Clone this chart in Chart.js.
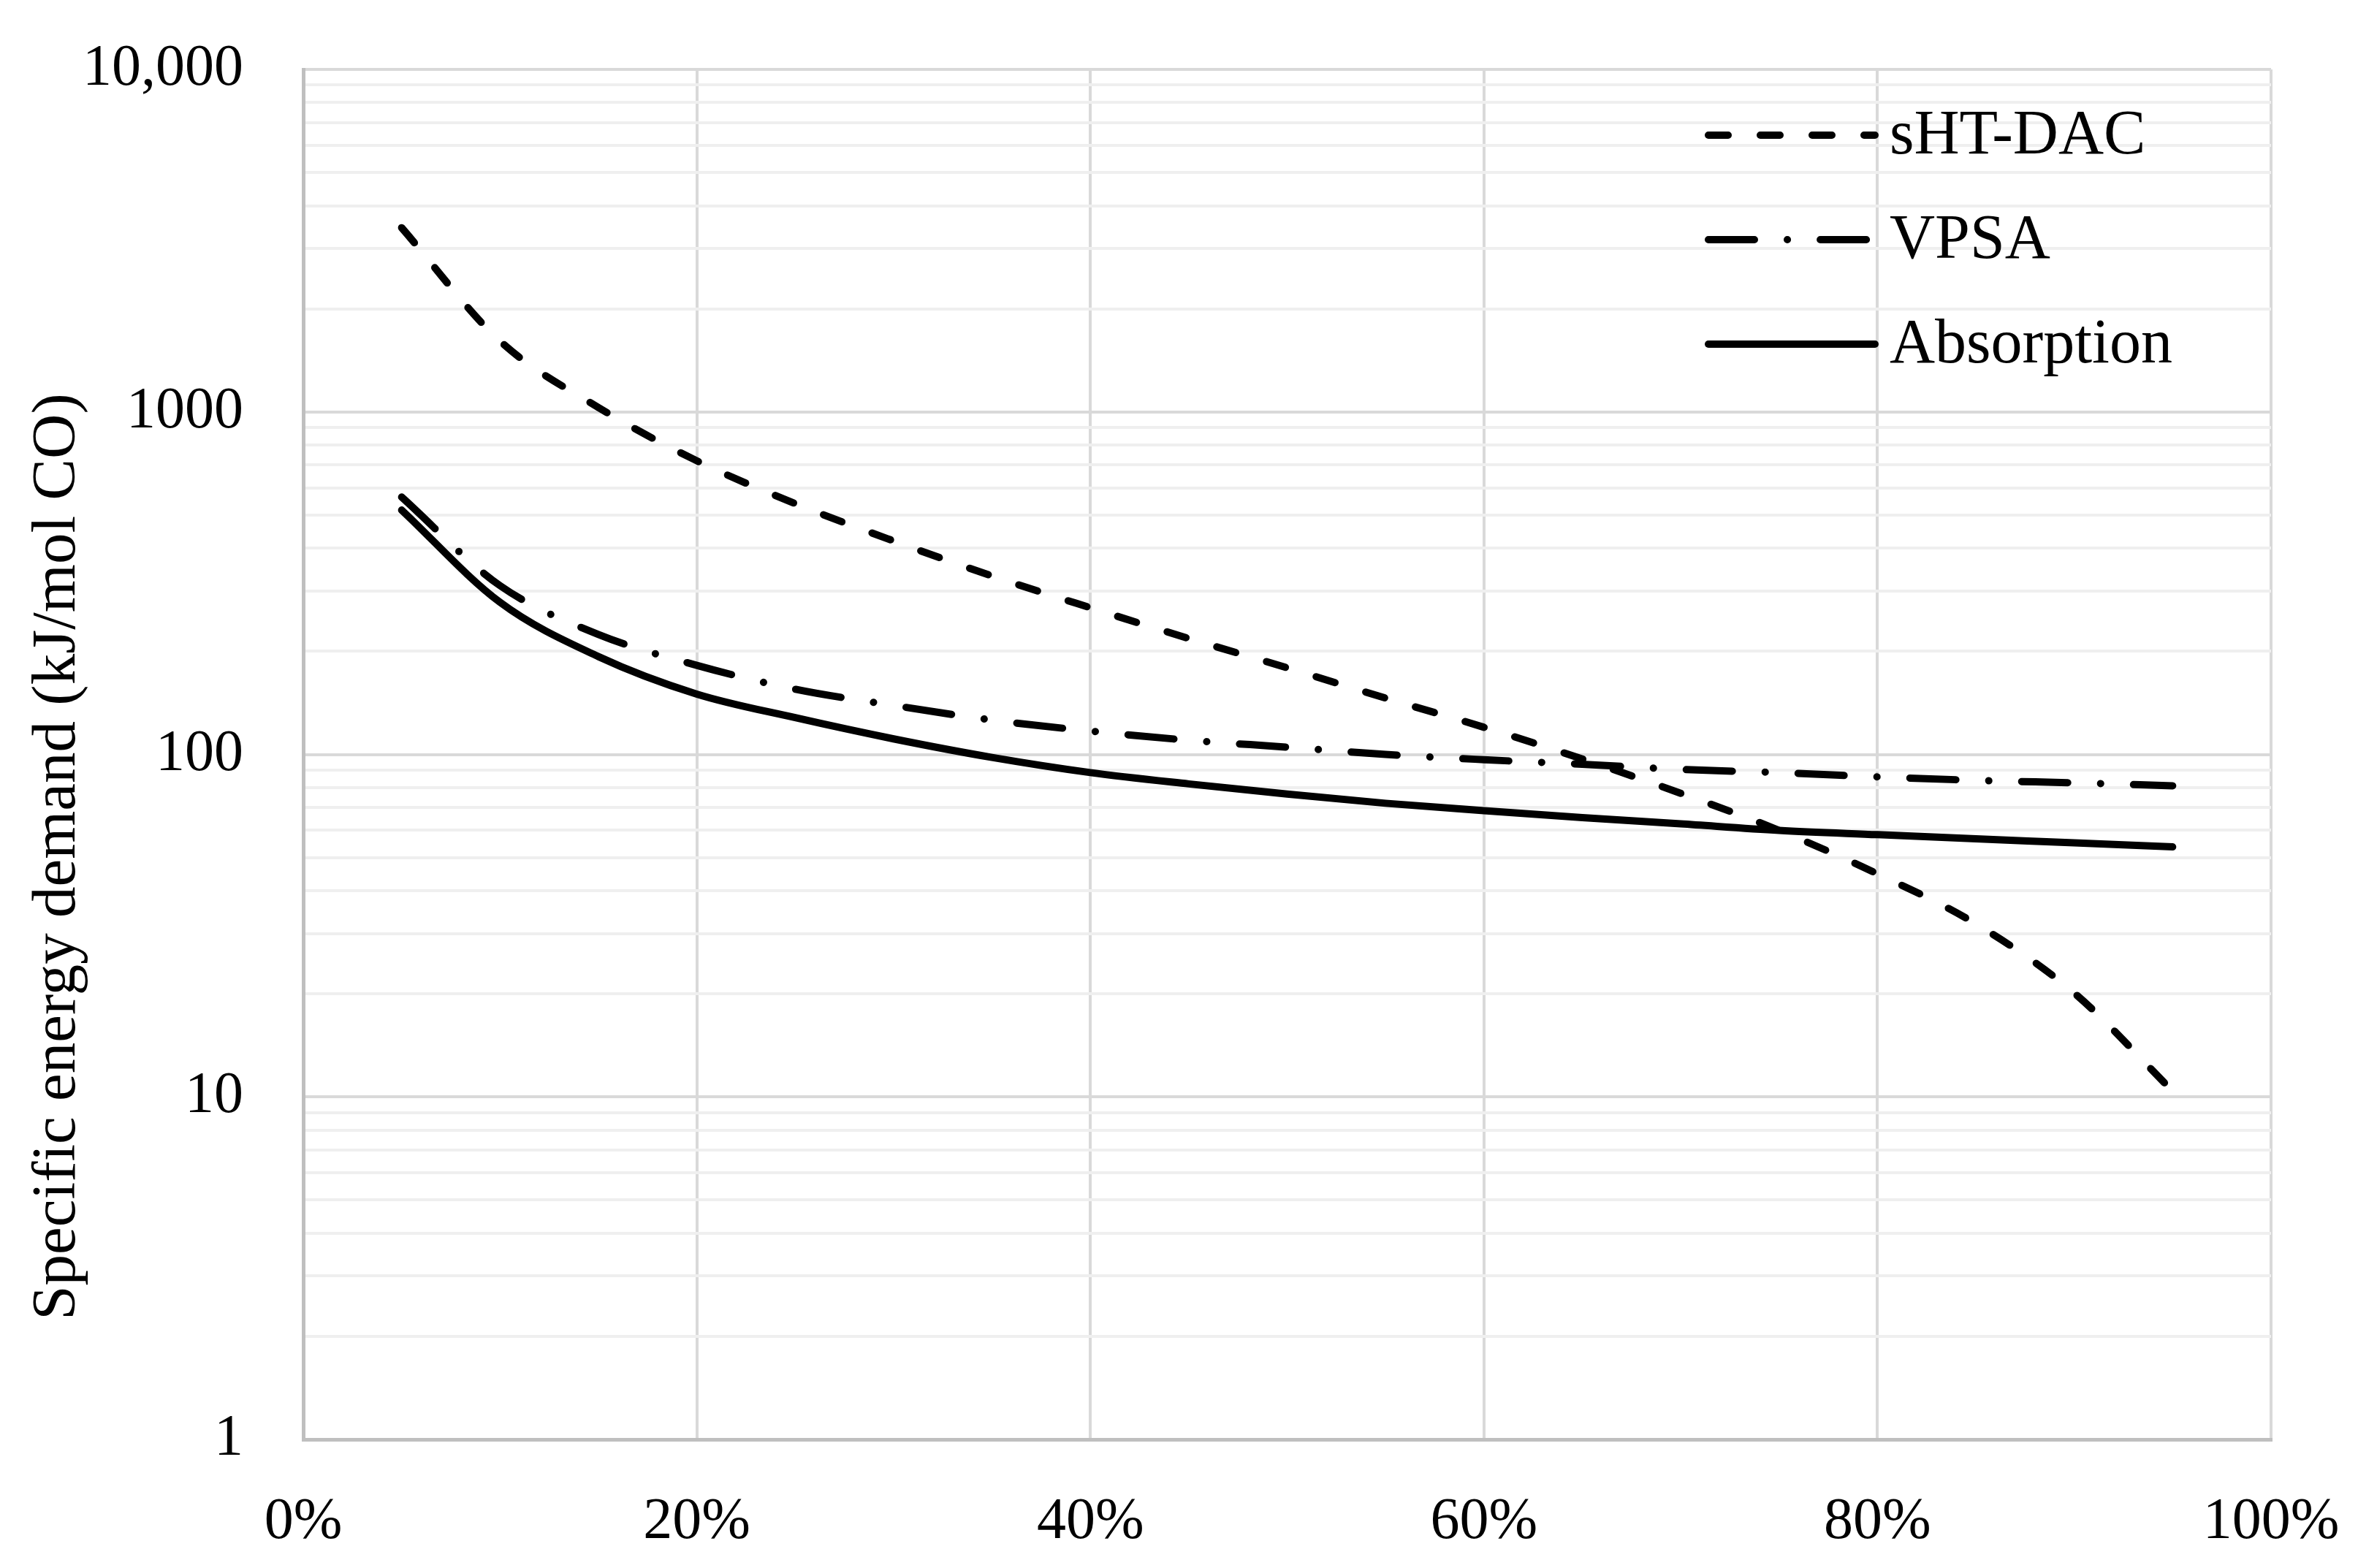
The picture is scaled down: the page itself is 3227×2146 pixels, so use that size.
<!DOCTYPE html>
<html>
<head>
<meta charset="utf-8">
<script src="https://cdn.jsdelivr.net/npm/chart.js@4/dist/chart.umd.min.js"></script>
<style>
  html, body { margin: 0; padding: 0; background: #ffffff; }
  #wrap { width: 3227px; height: 2146px; }
</style>
</head>
<body>
<div id="wrap"><canvas id="c" width="3227" height="2146"></canvas></div>
<script>
// ---- data ----
const captureRate = [5, 10, 15, 20, 25, 30, 35, 40, 45, 50, 55, 60, 65, 70, 75, 80, 85, 90, 95];
const shtDac     = [3450, 1610, 1030, 720, 540, 420, 332, 268, 218, 179, 146, 120, 97, 77, 60, 44.8, 32, 20.1, 10.4];
const vpsa       = [564, 311, 224, 182, 155, 139, 126, 117, 110, 105, 100, 96.5, 93.6, 90.4, 88.5, 86, 84, 82.6, 81];
const absorption = [517, 278, 193, 150, 128, 111, 98, 88.5, 82, 76.6, 72, 68.5, 65.4, 62.7, 60, 58.3, 56.7, 55.2, 53.7];
const seriesNames = ['sHT-DAC', 'VPSA', 'Absorption'];
const yMajorTicks = [1, 10, 100, 1000, 10000];
const yTickLabels = ['1', '10', '100', '1000', '10,000'];
const xTicks = [0, 20, 40, 60, 80, 100];
const xTickLabels = ['0%', '20%', '40%', '60%', '80%', '100%'];
const yTitle = 'Specific energy demand (kJ/mol CO)';

// ---- styling ----
const FONT = "'Liberation Serif', 'Times New Roman', serif";
const dashStyles = [[27, 44], [63, 45, 0.1, 45], []];

// all log grid positions (1..9 in each decade)
const yAllTicks = [];
for (let i = 0; i < yMajorTicks.length; i++) {
  const d = yMajorTicks[i];
  yAllTicks.push(d);
  if (i < yMajorTicks.length - 1) {
    for (let m = 2; m <= 9; m++) yAllTicks.push(d * m);
  }
}

const datasets = [shtDac, vpsa, absorption].map((ys, i) => ({
  label: seriesNames[i],
  data: captureRate.map((x, k) => ({ x: x, y: ys[k] })),
  borderColor: '#000000',
  backgroundColor: '#000000',
  borderWidth: 10,
  borderDash: dashStyles[i],
  borderCapStyle: 'round',
  borderJoinStyle: 'round',
  pointRadius: 0,
  pointHoverRadius: 0,
  fill: false,
  cubicInterpolationMode: 'monotone'
}));

const overlayPlugin = {
  id: 'overlay',
  afterDraw(chart) {
    const ctx = chart.ctx;
    const a = chart.chartArea;
    // rotated y-axis title
    ctx.save();
    ctx.translate(a.left - 335, (a.top + a.bottom) / 2 + 140);
    ctx.rotate(-Math.PI / 2);
    ctx.font = '85px ' + FONT;
    ctx.fillStyle = '#000000';
    ctx.textAlign = 'center';
    ctx.textBaseline = 'middle';
    ctx.fillText(yTitle, 0, 0);
    ctx.restore();
    // legend inside plot (top right)
    chart.data.datasets.forEach((ds, i) => {
      const y = a.top + 90 + i * 143;
      const x0 = a.right - 770, x1 = a.right - 542;
      ctx.save();
      ctx.strokeStyle = ds.borderColor;
      ctx.lineWidth = ds.borderWidth;
      ctx.lineCap = 'round';
      ctx.setLineDash(ds.borderDash || []);
      ctx.beginPath();
      ctx.moveTo(x0, y);
      ctx.lineTo(x1, y);
      ctx.stroke();
      ctx.setLineDash([]);
      ctx.font = '86px ' + FONT;
      ctx.fillStyle = '#000000';
      ctx.textAlign = 'left';
      ctx.textBaseline = 'middle';
      ctx.fillText(ds.label, a.right - 522, y + 2);
      ctx.restore();
    });
  }
};

new Chart(document.getElementById('c'), {
  type: 'line',
  data: { datasets: datasets },
  plugins: [overlayPlugin],
  options: {
    responsive: false,
    animation: false,
    devicePixelRatio: 1,
    layout: { padding: { left: 0, top: 95, right: 119, bottom: 0 } },
    plugins: {
      legend: { display: false },
      tooltip: { enabled: false },
      title: { display: false }
    },
    scales: {
      x: {
        type: 'linear',
        min: 0,
        max: 100,
        afterBuildTicks: (s) => { s.ticks = xTicks.map(v => ({ value: v })); },
        afterFit: (s) => { s.height = 176; s.paddingLeft = 0; s.paddingRight = 0; },
        ticks: {
          autoSkip: false,
          maxRotation: 0,
          padding: 66,
          color: '#000000',
          font: { family: FONT, size: 80 },
          callback: (v) => xTickLabels[xTicks.indexOf(v)]
        },
        grid: { color: '#d9d9d9', lineWidth: 4, drawTicks: false },
        border: { display: true, color: '#bfbfbf', width: 5 }
      },
      y: {
        type: 'logarithmic',
        min: 1,
        max: 10000,
        afterBuildTicks: (s) => { s.ticks = yAllTicks.map(v => ({ value: v })); },
        afterFit: (s) => { s.width = 415; s.paddingTop = 0; s.paddingBottom = 0; },
        ticks: {
          autoSkip: false,
          padding: 82,
          color: '#000000',
          font: { family: FONT, size: 80 },
          callback: (v) => {
            const k = yMajorTicks.indexOf(v);
            return k >= 0 ? yTickLabels[k] : '';
          }
        },
        grid: {
          color: (c) => (c.tick && yMajorTicks.includes(c.tick.value)) ? '#d9d9d9' : '#efefef',
          lineWidth: 4,
          drawTicks: false
        },
        border: { display: true, color: '#bfbfbf', width: 5 }
      }
    }
  }
});
</script>
</body>
</html>
